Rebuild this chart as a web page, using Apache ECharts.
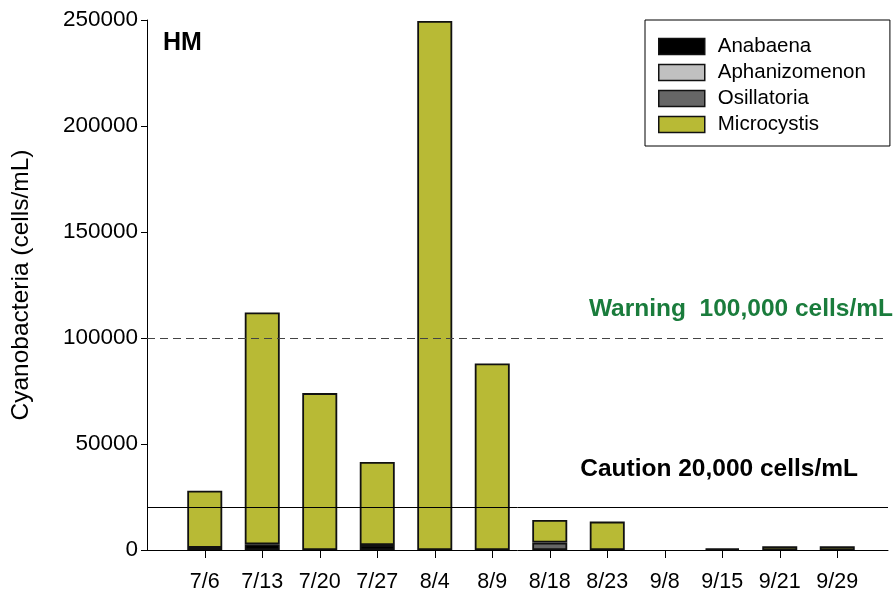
<!DOCTYPE html>
<html><head><meta charset="utf-8">
<script src="https://cdn.jsdelivr.net/npm/echarts@6/dist/echarts.min.js"></script>
<style>html,body{margin:0;padding:0;background:#fff}#c{width:896px;height:597px}</style>
</head><body><div id="c"></div>
<script>
const categories = ['7/6','7/13','7/20','7/27','8/4','8/9','8/18','8/23','9/8','9/15','9/21','9/29'];
const anabaena = [1000, 2700, null, 2300, null, null, null, null, null, 700, null, null];
const aphanizomenon = [null, null, null, null, null, null, null, null, null, null, null, null];
const osillatoria = [null, null, null, null, null, null, 3500, null, null, null, null, null];
const microcystis = [27000, 109300, 74000, 39200, 249500, 88000, 10700, 13400, null, null, 1750, 1750];
const yTicks = [0, 50000, 100000, 150000, 200000, 250000];
const warningLevel = 100000;
const cautionLevel = 20000;

const FONT = 'Liberation Sans';
const chart = echarts.init(document.getElementById('c'));
const barStyle = (c) => ({ color: c, borderColor: '#111', borderWidth: 1.8 });
chart.setOption({
  animation: false,
  textStyle: { fontFamily: FONT },
  grid: [
    { left: 147, right: 8, top: 20, bottom: 47 },
    { left: 176, right: 30, top: 20, bottom: 47 }
  ],
  legend: {
    left: 645, top: 20, orient: 'vertical',
    padding: [16, 24, 11, 13],
    borderColor: '#000', borderWidth: 1,
    icon: 'rect',
    itemWidth: 46, itemHeight: 16, itemGap: 5,
    itemStyle: { borderColor: '#111', borderWidth: 1.5 },
    textStyle: { fontFamily: FONT, fontSize: 20.5, color: '#000', padding: [0, 0, 0, 8] },
    data: ['Anabaena', 'Aphanizomenon', 'Osillatoria', 'Microcystis']
  },
  xAxis: [
    { gridIndex: 0, type: 'value', min: 0, max: 1, axisLabel: { show: false }, axisTick: { show: false },
      splitLine: { show: false }, axisLine: { show: true, onZero: false, lineStyle: { color: '#000', width: 1 } } },
    { gridIndex: 1, type: 'category', data: categories, boundaryGap: true,
      axisLine: { show: false },
      axisTick: { show: true, alignWithLabel: true, length: 8, lineStyle: { color: '#000' } },
      axisLabel: { fontFamily: FONT, fontSize: 21.5, color: '#000', margin: 21 } }
  ],
  yAxis: [
    { gridIndex: 0, type: 'value', min: 0, max: 250000, interval: 50000,
      axisLine: { show: true, lineStyle: { color: '#000' } },
      axisTick: { show: true, length: 6, lineStyle: { color: '#000' } },
      splitLine: { show: false },
      axisLabel: { fontFamily: FONT, fontSize: 22.5, color: '#000', margin: 9,
        formatter: (v) => yTicks.includes(v) ? String(v) : '' },
      name: 'Cyanobacteria (cells/mL)', nameLocation: 'middle', nameGap: 113,
      nameTextStyle: { fontFamily: FONT, fontSize: 24.5, color: '#000' } },
    { gridIndex: 1, type: 'value', min: 0, max: 250000, show: false }
  ],
  graphic: [
    { type: 'text', left: 163, top: 31, style: { text: 'HM', font: 'bold 25px "Liberation Sans"', fill: '#000' } },
    { type: 'text', right: 3, top: 297, style: { text: 'Warning  100,000 cells/mL', font: 'bold 24.5px "Liberation Sans"', fill: '#1a7c3c' } },
    { type: 'text', right: 38, top: 457, style: { text: 'Caution 20,000 cells/mL', font: 'bold 24.5px "Liberation Sans"', fill: '#000' } }
  ],
  series: [
    { type: 'line', xAxisIndex: 0, yAxisIndex: 0, data: [], silent: true,
      markLine: { silent: true, symbol: 'none', label: { show: false },
        data: [
          { yAxis: warningLevel, lineStyle: { type: [8, 5], color: '#444', width: 1 } },
          { yAxis: cautionLevel, lineStyle: { type: 'solid', color: '#000', width: 1 } }
        ] } },
    { name: 'Anabaena', type: 'bar', stack: 's', xAxisIndex: 1, yAxisIndex: 1, barWidth: 35, data: anabaena, itemStyle: barStyle('#000000') },
    { name: 'Aphanizomenon', type: 'bar', stack: 's', xAxisIndex: 1, yAxisIndex: 1, barWidth: 35, data: aphanizomenon, itemStyle: barStyle('#c0c0c0') },
    { name: 'Osillatoria', type: 'bar', stack: 's', xAxisIndex: 1, yAxisIndex: 1, barWidth: 35, data: osillatoria, itemStyle: barStyle('#666666') },
    { name: 'Microcystis', type: 'bar', stack: 's', xAxisIndex: 1, yAxisIndex: 1, barWidth: 35, data: microcystis, itemStyle: barStyle('#b8ba35') }
  ]
});
</script></body></html>
